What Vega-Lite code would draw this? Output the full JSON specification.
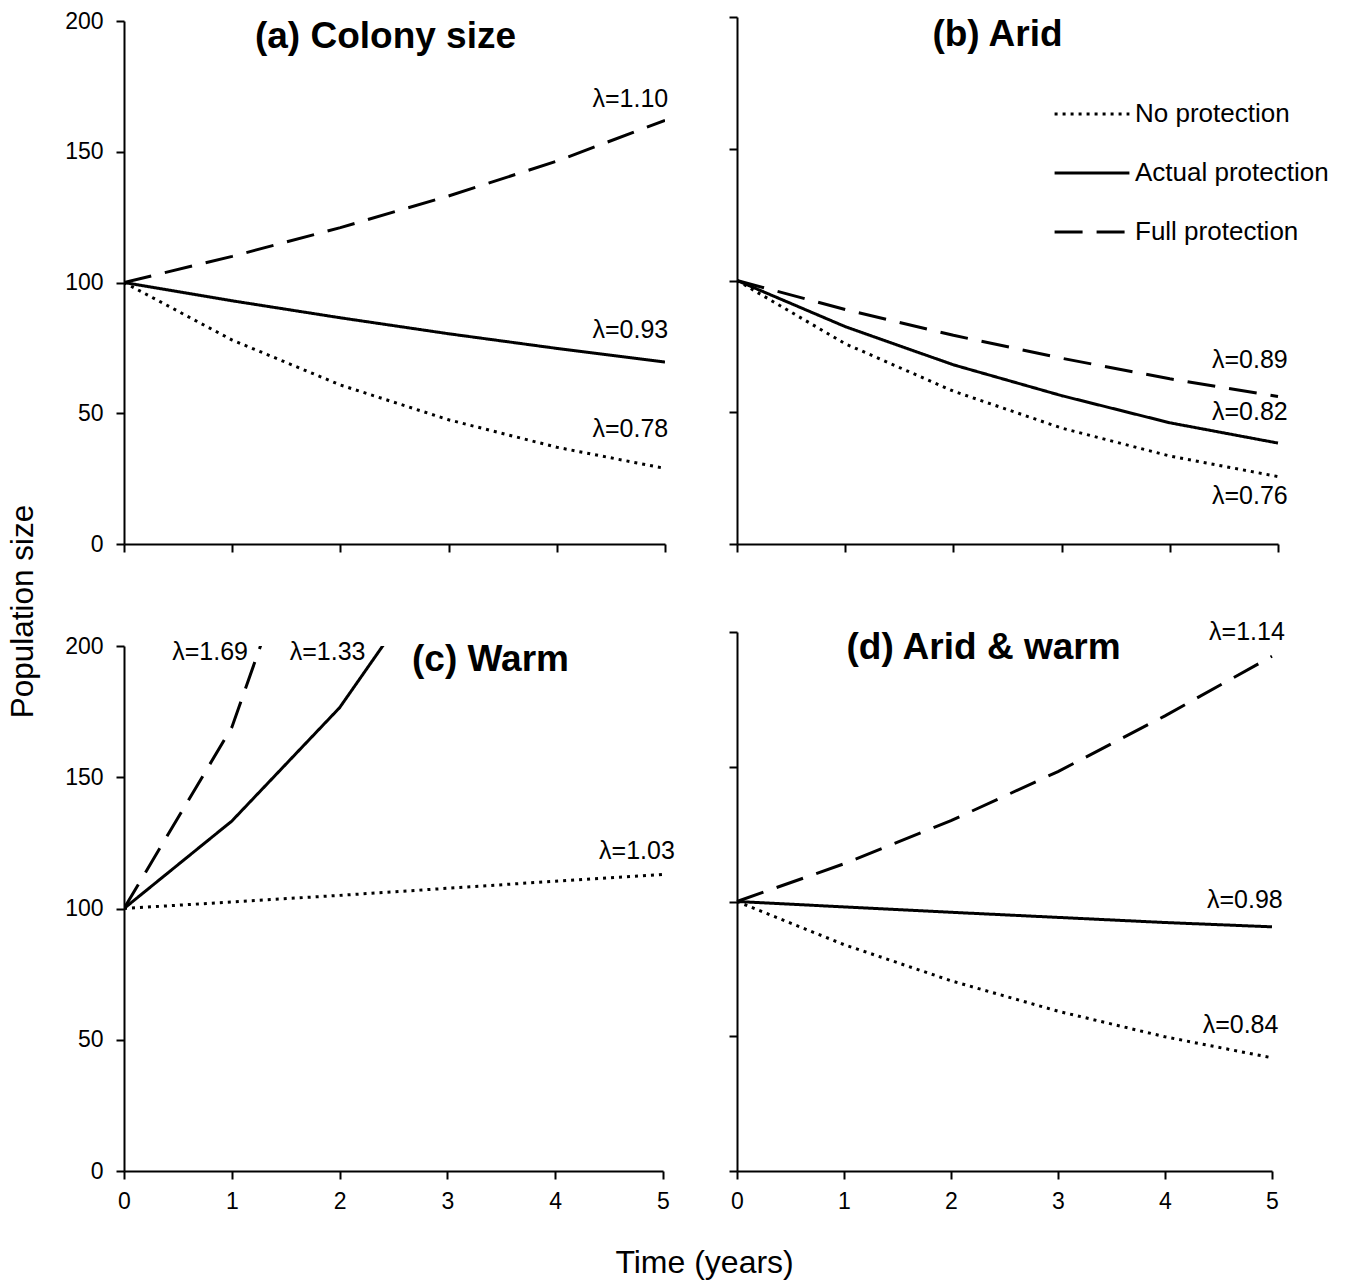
{
  "$schema": "https://vega.github.io/schema/vega-lite/v6.json",
  "background": "white",
  "padding": {"left": 8, "top": 10, "right": 5, "bottom": 5},
  "config": {
    "font": "Liberation Sans",
    "view": {"stroke": null},
    "axis": {"domainColor": "black", "domainWidth": 2, "tickColor": "black", "tickWidth": 2, "tickSize": 8, "labelFont": "Liberation Sans", "labelFontSize": 23, "labelColor": "black", "grid": false, "labelPadding": 13, "title": null, "labelFlush": false},
    "axisX": {"labelPadding": 11},
    "title": {"font": "Liberation Sans", "color": "black"}
  },
  "datasets": {
    "series": [
      {"p": "a", "s": "No protection", "t": 0, "v": 100}, {"p": "a", "s": "No protection", "t": 1, "v": 78}, {"p": "a", "s": "No protection", "t": 2, "v": 60.8}, {"p": "a", "s": "No protection", "t": 3, "v": 47.5}, {"p": "a", "s": "No protection", "t": 4, "v": 37}, {"p": "a", "s": "No protection", "t": 5, "v": 28.9},
      {"p": "a", "s": "Actual protection", "t": 0, "v": 100}, {"p": "a", "s": "Actual protection", "t": 1, "v": 93}, {"p": "a", "s": "Actual protection", "t": 2, "v": 86.5}, {"p": "a", "s": "Actual protection", "t": 3, "v": 80.4}, {"p": "a", "s": "Actual protection", "t": 4, "v": 74.8}, {"p": "a", "s": "Actual protection", "t": 5, "v": 69.6},
      {"p": "a", "s": "Full protection", "t": 0, "v": 100}, {"p": "a", "s": "Full protection", "t": 1, "v": 110}, {"p": "a", "s": "Full protection", "t": 2, "v": 121}, {"p": "a", "s": "Full protection", "t": 3, "v": 133.1}, {"p": "a", "s": "Full protection", "t": 4, "v": 146.4}, {"p": "a", "s": "Full protection", "t": 5, "v": 162},
      {"p": "b", "s": "No protection", "t": 0, "v": 100}, {"p": "b", "s": "No protection", "t": 1, "v": 76}, {"p": "b", "s": "No protection", "t": 2, "v": 58}, {"p": "b", "s": "No protection", "t": 3, "v": 44}, {"p": "b", "s": "No protection", "t": 4, "v": 33.4}, {"p": "b", "s": "No protection", "t": 5, "v": 25.6},
      {"p": "b", "s": "Actual protection", "t": 0, "v": 100}, {"p": "b", "s": "Actual protection", "t": 1, "v": 82.5}, {"p": "b", "s": "Actual protection", "t": 2, "v": 68}, {"p": "b", "s": "Actual protection", "t": 3, "v": 56.3}, {"p": "b", "s": "Actual protection", "t": 4, "v": 46}, {"p": "b", "s": "Actual protection", "t": 5, "v": 38.3},
      {"p": "b", "s": "Full protection", "t": 0, "v": 100}, {"p": "b", "s": "Full protection", "t": 1, "v": 89}, {"p": "b", "s": "Full protection", "t": 2, "v": 79.2}, {"p": "b", "s": "Full protection", "t": 3, "v": 70.5}, {"p": "b", "s": "Full protection", "t": 4, "v": 62.7}, {"p": "b", "s": "Full protection", "t": 5, "v": 56},
      {"p": "c", "s": "No protection", "t": 0, "v": 100}, {"p": "c", "s": "No protection", "t": 1, "v": 102.5}, {"p": "c", "s": "No protection", "t": 2, "v": 105}, {"p": "c", "s": "No protection", "t": 3, "v": 107.7}, {"p": "c", "s": "No protection", "t": 4, "v": 110.4}, {"p": "c", "s": "No protection", "t": 5, "v": 113},
      {"p": "c", "s": "Actual protection", "t": 0, "v": 100}, {"p": "c", "s": "Actual protection", "t": 1, "v": 133.3}, {"p": "c", "s": "Actual protection", "t": 2, "v": 176.5}, {"p": "c", "s": "Actual protection", "t": 3, "v": 235.3}, {"p": "c", "s": "Actual protection", "t": 4, "v": 312.9}, {"p": "c", "s": "Actual protection", "t": 5, "v": 416.2},
      {"p": "c", "s": "Full protection", "t": 0, "v": 100}, {"p": "c", "s": "Full protection", "t": 1, "v": 169}, {"p": "c", "s": "Full protection", "t": 2, "v": 285.6}, {"p": "c", "s": "Full protection", "t": 3, "v": 482.7}, {"p": "c", "s": "Full protection", "t": 4, "v": 815.7}, {"p": "c", "s": "Full protection", "t": 5, "v": 1378.6},
      {"p": "d", "s": "No protection", "t": 0, "v": 100}, {"p": "d", "s": "No protection", "t": 1, "v": 84}, {"p": "d", "s": "No protection", "t": 2, "v": 70.6}, {"p": "d", "s": "No protection", "t": 3, "v": 59.3}, {"p": "d", "s": "No protection", "t": 4, "v": 49.8}, {"p": "d", "s": "No protection", "t": 5, "v": 42},
      {"p": "d", "s": "Actual protection", "t": 0, "v": 100}, {"p": "d", "s": "Actual protection", "t": 1, "v": 98}, {"p": "d", "s": "Actual protection", "t": 2, "v": 96}, {"p": "d", "s": "Actual protection", "t": 3, "v": 94.1}, {"p": "d", "s": "Actual protection", "t": 4, "v": 92.2}, {"p": "d", "s": "Actual protection", "t": 5, "v": 90.6},
      {"p": "d", "s": "Full protection", "t": 0, "v": 100}, {"p": "d", "s": "Full protection", "t": 1, "v": 114}, {"p": "d", "s": "Full protection", "t": 2, "v": 130}, {"p": "d", "s": "Full protection", "t": 3, "v": 148.2}, {"p": "d", "s": "Full protection", "t": 4, "v": 168.9}, {"p": "d", "s": "Full protection", "t": 5, "v": 191}
    ],
    "labels": [
      {"p": "a", "t": 5.03, "v": 170, "txt": "λ=1.10"}, {"p": "a", "t": 5.03, "v": 82, "txt": "λ=0.93"}, {"p": "a", "t": 5.03, "v": 44, "txt": "λ=0.78"},
      {"p": "b", "t": 5.09, "v": 70, "txt": "λ=0.89"}, {"p": "b", "t": 5.09, "v": 50, "txt": "λ=0.82"}, {"p": "b", "t": 5.09, "v": 18.3, "txt": "λ=0.76"},
      {"p": "c", "t": 1.15, "v": 197.7, "txt": "λ=1.69"}, {"p": "c", "t": 2.24, "v": 197.7, "txt": "λ=1.33"}, {"p": "c", "t": 5.11, "v": 121.9, "txt": "λ=1.03"},
      {"p": "d", "t": 5.12, "v": 200, "txt": "λ=1.14"}, {"p": "d", "t": 5.1, "v": 100.6, "txt": "λ=0.98"}, {"p": "d", "t": 5.06, "v": 54.2, "txt": "λ=0.84"}
    ]
  },
  "title": {"text": "Time (years)", "orient": "bottom", "fontSize": 32, "fontWeight": "normal", "anchor": "middle", "dx": 36, "offset": 35},
  "resolve": {"legend": {"strokeDash": "independent"}},
  "vconcat": [
    {
      "title": {"text": "Population size", "orient": "left", "fontSize": 31.5, "fontWeight": "normal", "anchor": "middle", "offset": 25},
      "bounds": "flush",
      "columns": 2,
      "spacing": {"row": 102, "column": 72},
      "resolve": {"legend": {"strokeDash": "independent"}},
      "concat": [
        {
          "width": 541, "height": 523,
          "title": {"text": "(a) Colony size", "fontSize": 37, "fontWeight": "bold", "anchor": "middle", "offset": -46, "dx": -9},
          "layer": [
            {
              "data": {"name": "series"},
              "transform": [{"filter": "datum.p === 'a'"}],
              "mark": {"type": "line", "color": "black", "strokeWidth": 3, "clip": true},
              "encoding": {
                "x": {"field": "t", "type": "quantitative", "scale": {"domain": [0, 5], "nice": false}, "axis": {"values": [0, 1, 2, 3, 4, 5], "labels": false}},
                "y": {"field": "v", "type": "quantitative", "scale": {"domain": [0, 200], "nice": false}, "axis": {"values": [0, 50, 100, 150, 200]}},
                "strokeDash": {"field": "s", "type": "nominal", "scale": {"domain": ["No protection", "Actual protection", "Full protection"], "range": [[3, 5], [1, 0], [28, 14]]}, "legend": null}
              }
            },
            {
              "data": {"name": "labels"},
              "transform": [{"filter": "datum.p === 'a'"}],
              "mark": {"type": "text", "align": "right", "baseline": "middle", "fontSize": 25, "font": "Liberation Sans", "color": "black"},
              "encoding": {
                "x": {"field": "t", "type": "quantitative"},
                "y": {"field": "v", "type": "quantitative"},
                "text": {"field": "txt"}
              }
            }
          ]
        },
        {
          "width": 541, "height": 523,
          "title": {"text": "(b) Arid", "fontSize": 37, "fontWeight": "bold", "anchor": "middle", "offset": -38, "dx": -10},
          "layer": [
            {
              "data": {"name": "series"},
              "transform": [{"filter": "datum.p === 'b'"}],
              "mark": {"type": "line", "color": "black", "strokeWidth": 3},
              "encoding": {
                "x": {"field": "t", "type": "quantitative", "scale": {"domain": [0, 5], "nice": false}, "axis": {"values": [0, 1, 2, 3, 4, 5], "labels": false}},
                "y": {"field": "v", "type": "quantitative", "scale": {"domain": [0, 200], "nice": false, "range": [523, -4]}, "axis": {"values": [0, 50, 100, 150, 200], "labels": false}},
                "strokeDash": {"field": "s", "type": "nominal", "scale": {"domain": ["No protection", "Actual protection", "Full protection"], "range": [[3, 5], [1, 0], [28, 14]]},
                  "legend": {"orient": "none", "legendX": 316, "legendY": 54, "title": null, "symbolType": "stroke", "symbolSize": 5600, "symbolStrokeWidth": 3, "symbolStrokeColor": "black", "labelFontSize": 26, "labelFont": "Liberation Sans", "labelColor": "black", "labelLimit": 0, "rowPadding": 7, "labelOffset": 4}}
              }
            },
            {
              "data": {"name": "labels"},
              "transform": [{"filter": "datum.p === 'b'"}],
              "mark": {"type": "text", "align": "right", "baseline": "middle", "fontSize": 25, "font": "Liberation Sans", "color": "black"},
              "encoding": {
                "x": {"field": "t", "type": "quantitative"},
                "y": {"field": "v", "type": "quantitative"},
                "text": {"field": "txt"}
              }
            }
          ]
        },
        {
          "width": 539, "height": 525,
          "title": {"text": "(c) Warm", "fontSize": 37, "fontWeight": "bold", "anchor": "middle", "offset": -44, "dx": 97},
          "layer": [
            {
              "data": {"name": "series"},
              "transform": [{"filter": "datum.p === 'c'"}],
              "mark": {"type": "line", "color": "black", "strokeWidth": 3, "clip": true},
              "encoding": {
                "x": {"field": "t", "type": "quantitative", "scale": {"domain": [0, 5], "nice": false}, "axis": {"values": [0, 1, 2, 3, 4, 5], "format": "d"}},
                "y": {"field": "v", "type": "quantitative", "scale": {"domain": [0, 200], "nice": false}, "axis": {"values": [0, 50, 100, 150, 200]}},
                "strokeDash": {"field": "s", "type": "nominal", "scale": {"domain": ["No protection", "Actual protection", "Full protection"], "range": [[3, 5], [1, 0], [28, 14]]}, "legend": null}
              }
            },
            {
              "data": {"name": "labels"},
              "transform": [{"filter": "datum.p === 'c'"}],
              "mark": {"type": "text", "align": "right", "baseline": "middle", "fontSize": 25, "font": "Liberation Sans", "color": "black"},
              "encoding": {
                "x": {"field": "t", "type": "quantitative"},
                "y": {"field": "v", "type": "quantitative"},
                "text": {"field": "txt"}
              }
            }
          ]
        },
        {
          "width": 535, "height": 525,
          "title": {"text": "(d) Arid & warm", "fontSize": 37, "fontWeight": "bold", "anchor": "middle", "offset": -47, "dx": -21},
          "layer": [
            {
              "data": {"name": "series"},
              "transform": [{"filter": "datum.p === 'd'"}],
              "mark": {"type": "line", "color": "black", "strokeWidth": 3},
              "encoding": {
                "x": {"field": "t", "type": "quantitative", "scale": {"domain": [0, 5], "nice": false}, "axis": {"values": [0, 1, 2, 3, 4, 5], "format": "d"}},
                "y": {"field": "v", "type": "quantitative", "scale": {"domain": [0, 200], "nice": false, "range": [525, -14]}, "axis": {"values": [0, 50, 100, 150, 200], "labels": false}},
                "strokeDash": {"field": "s", "type": "nominal", "scale": {"domain": ["No protection", "Actual protection", "Full protection"], "range": [[3, 5], [1, 0], [28, 14]]}, "legend": null}
              }
            },
            {
              "data": {"name": "labels"},
              "transform": [{"filter": "datum.p === 'd'"}],
              "mark": {"type": "text", "align": "right", "baseline": "middle", "fontSize": 25, "font": "Liberation Sans", "color": "black"},
              "encoding": {
                "x": {"field": "t", "type": "quantitative"},
                "y": {"field": "v", "type": "quantitative"},
                "text": {"field": "txt"}
              }
            }
          ]
        }
      ]
    }
  ]
}
